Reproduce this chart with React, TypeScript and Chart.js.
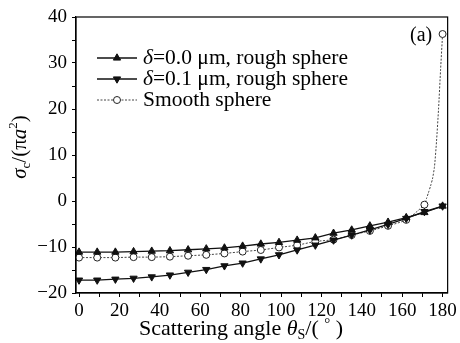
import React, { useEffect, useRef } from "react";
import { Chart, registerables } from "chart.js";

Chart.register(...registerables);

const angles = [0, 9, 18, 27, 36, 45, 54, 63, 72, 81, 90, 99, 108, 117, 126, 135, 144, 153, 162, 171, 180];
const rough00 = [-11.1, -11.1, -11.1, -11.0, -10.9, -10.8, -10.6, -10.4, -10.2, -9.8, -9.35, -9.0, -8.5, -8.0, -7.0, -6.3, -5.4, -4.6, -3.6, -2.5, -1.1];
const rough01 = [-17.2, -17.2, -17.0, -16.8, -16.5, -16.1, -15.5, -14.9, -14.1, -13.5, -12.6, -11.7, -10.65, -9.6, -8.5, -7.4, -6.3, -5.1, -3.8, -2.3, -1.1];
const smoothAngles = [0, 9, 18, 27, 36, 45, 54, 63, 72, 81, 90, 99, 108, 117, 126, 135, 144, 153, 162, 171, 172, 173, 174, 175, 176, 177, 178, 179, 180];
const smooth = [-12.3, -12.3, -12.3, -12.2, -12.2, -12.1, -11.9, -11.7, -11.4, -11.0, -10.65, -10.1, -9.6, -8.8, -8.4, -7.4, -6.5, -5.4, -4.1, -0.8, 0.5, 1.8, 3.2, 4.8, 7.5, 13, 20, 28.5, 36.3];
const seriesLabels = ["δ=0.0 μm, rough sphere", "δ=0.1 μm, rough sphere", "Smooth sphere"];
const xTicks = [0, 10, 20, 30, 40, 50, 60, 70, 80, 90, 100, 110, 120, 130, 140, 150, 160, 170, 180];
const yTicks = [-20, -15, -10, -5, 0, 5, 10, 15, 20, 25, 30, 35, 40];
const panelLabel = "(a)";

const SERIF = "'Liberation Serif', 'DejaVu Serif', serif";

type Part = { t: string; italic?: boolean; size?: number; dy?: number };

function drawParts(ctx: CanvasRenderingContext2D, parts: Part[], x: number, y: number, base: number, align: "left" | "center") {
  const fontOf = (p: Part) => `${p.italic ? "italic " : ""}${p.size || base}px ${SERIF}`;
  let total = 0;
  for (const p of parts) {
    ctx.font = fontOf(p);
    total += ctx.measureText(p.t).width;
  }
  let cx = align === "center" ? x - total / 2 : x;
  ctx.textBaseline = "alphabetic";
  ctx.textAlign = "left";
  for (const p of parts) {
    ctx.font = fontOf(p);
    ctx.fillText(p.t, cx, y + (p.dy || 0));
    cx += ctx.measureText(p.t).width;
  }
}

function drawMarker(ctx: CanvasRenderingContext2D, style: string, rot: number, x: number, y: number, r: number) {
  ctx.save();
  ctx.translate(x, y);
  ctx.rotate((rot * Math.PI) / 180);
  ctx.beginPath();
  if (style === "triangle") {
    ctx.moveTo(0, -r);
    ctx.lineTo(r * 0.866, r * 0.5);
    ctx.lineTo(-r * 0.866, r * 0.5);
    ctx.closePath();
  } else {
    ctx.arc(0, 0, r, 0, Math.PI * 2);
  }
  ctx.fill();
  ctx.stroke();
  ctx.restore();
}

const decorPlugin = {
  id: "decor",
  afterDraw(chart: any) {
    const ctx = chart.ctx as CanvasRenderingContext2D;
    const a = chart.chartArea;
    ctx.save();
    ctx.strokeStyle = "#000";
    ctx.lineWidth = 1.2;
    ctx.strokeRect(a.left, a.top, a.right - a.left, a.bottom - a.top);
    ctx.fillStyle = "#000";
    ctx.font = `20px ${SERIF}`;
    ctx.textAlign = "left";
    ctx.textBaseline = "alphabetic";
    ctx.fillText(panelLabel, 410, 41);
    const rows = [58, 79, 100];
    chart.data.datasets.forEach((ds: any, i: number) => {
      const y = rows[i];
      ctx.save();
      ctx.strokeStyle = ds.borderColor;
      ctx.lineWidth = ds.borderWidth;
      ctx.setLineDash(ds.borderDash || []);
      ctx.beginPath();
      ctx.moveTo(97, y);
      ctx.lineTo(137, y);
      ctx.stroke();
      ctx.restore();
      ctx.save();
      ctx.setLineDash([]);
      ctx.fillStyle = ds.pointBackgroundColor;
      ctx.strokeStyle = ds.pointBorderColor;
      ctx.lineWidth = 1;
      drawMarker(ctx, ds.pointStyle, ds.pointRotation || 0, 117, y, ds.legendRadius);
      ctx.restore();
      const label: string = ds.label;
      const parts: Part[] = label.startsWith("δ")
        ? [{ t: "δ", italic: true }, { t: label.slice(1) }]
        : [{ t: label }];
      ctx.fillStyle = "#000";
      drawParts(ctx, parts, 143, y + 6, 21.5, "left");
    });
    ctx.save();
    ctx.translate(26, 147);
    ctx.rotate(-Math.PI / 2);
    drawParts(
      ctx,
      [
        { t: "σ", italic: true, size: 21 },
        { t: "c", size: 13, dy: 4 },
        { t: "/(π", size: 21 },
        { t: "a", italic: true, size: 21 },
        { t: "2", size: 13, dy: -9 },
        { t: ")", size: 21 },
      ],
      0,
      0,
      21,
      "center"
    );
    ctx.restore();
    drawParts(
      ctx,
      [
        { t: "Scattering angle " },
        { t: "θ", italic: true },
        { t: "S", size: 14, dy: 4 },
        { t: "/( " },
        { t: "°", size: 15, dy: -7 },
        { t: " )" },
      ],
      241,
      335,
      22,
      "center"
    );
    ctx.restore();
  },
};

export default function App() {
  const ref = useRef<HTMLCanvasElement | null>(null);
  useEffect(() => {
    document.body.style.margin = "0";
    const canvas = ref.current;
    if (!canvas) return;
    const toPts = (xs: number[], ys: number[]) => xs.map((x, i) => ({ x, y: ys[i] }));
    const tickFont = { family: SERIF, size: 19 };
    const chart = new Chart(canvas, {
      type: "line",
      data: {
        datasets: [
          {
            label: seriesLabels[0],
            data: toPts(angles, rough00),
            borderColor: "#111",
            borderWidth: 1.3,
            pointStyle: "triangle",
            pointRadius: 4.2,
            legendRadius: 4.2,
            pointBackgroundColor: "#111",
            pointBorderColor: "#111",
            pointBorderWidth: 1,
            tension: 0,
          } as any,
          {
            label: seriesLabels[1],
            data: toPts(angles, rough01),
            borderColor: "#111",
            borderWidth: 1.3,
            pointStyle: "triangle",
            pointRotation: 180,
            pointRadius: 4.2,
            legendRadius: 4.2,
            pointBackgroundColor: "#111",
            pointBorderColor: "#111",
            pointBorderWidth: 1,
            tension: 0,
          } as any,
          {
            label: seriesLabels[2],
            data: toPts(smoothAngles, smooth),
            borderColor: "#444",
            borderWidth: 1,
            borderDash: [2, 1.5],
            pointStyle: "circle",
            pointRadius: (c: any) => (c.raw && c.raw.x % 9 === 0 ? 3.5 : 0),
            legendRadius: 3.5,
            pointBackgroundColor: "#fff",
            pointBorderColor: "#222",
            pointBorderWidth: 1,
            tension: 0.2,
          } as any,
        ],
      },
      options: {
        animation: false,
        responsive: false,
        maintainAspectRatio: false,
        layout: { padding: { top: 17, right: 12, left: 0, bottom: 0 } },
        plugins: { legend: { display: false }, tooltip: { enabled: false } },
        scales: {
          x: {
            type: "linear",
            min: -1.5,
            max: 182.5,
            afterBuildTicks: (s: any) => {
              s.ticks = xTicks.map((v) => ({ value: v }));
            },
            afterFit: (s: any) => {
              s.height = 50;
            },
            border: { display: true, color: "#000", width: 1.2 },
            grid: { display: true, drawOnChartArea: false, drawTicks: true, tickLength: 4, color: "#000" },
            ticks: {
              color: "#000",
              font: tickFont,
              padding: 3,
              maxRotation: 0,
              autoSkip: false,
              callback: (v: any) => (Number(v) % 20 === 0 ? String(v) : ""),
            },
          },
          y: {
            type: "linear",
            min: -20,
            max: 40,
            afterBuildTicks: (s: any) => {
              s.ticks = yTicks.map((v) => ({ value: v }));
            },
            afterFit: (s: any) => {
              s.width = 76;
            },
            border: { display: true, color: "#000", width: 1.2 },
            grid: { display: true, drawOnChartArea: false, drawTicks: true, tickLength: 4, color: "#000" },
            ticks: {
              color: "#000",
              font: tickFont,
              padding: 5,
              autoSkip: false,
              callback: (v: any) => (Number(v) % 10 === 0 ? (Number(v) < 0 ? "\u2212" + Math.abs(Number(v)) : String(v)) : ""),
            },
          },
        },
      },
      plugins: [decorPlugin],
    } as any);
    return () => chart.destroy();
  }, []);
  return <canvas ref={ref} width={460} height={343} style={{ display: "block" }} />;
}
